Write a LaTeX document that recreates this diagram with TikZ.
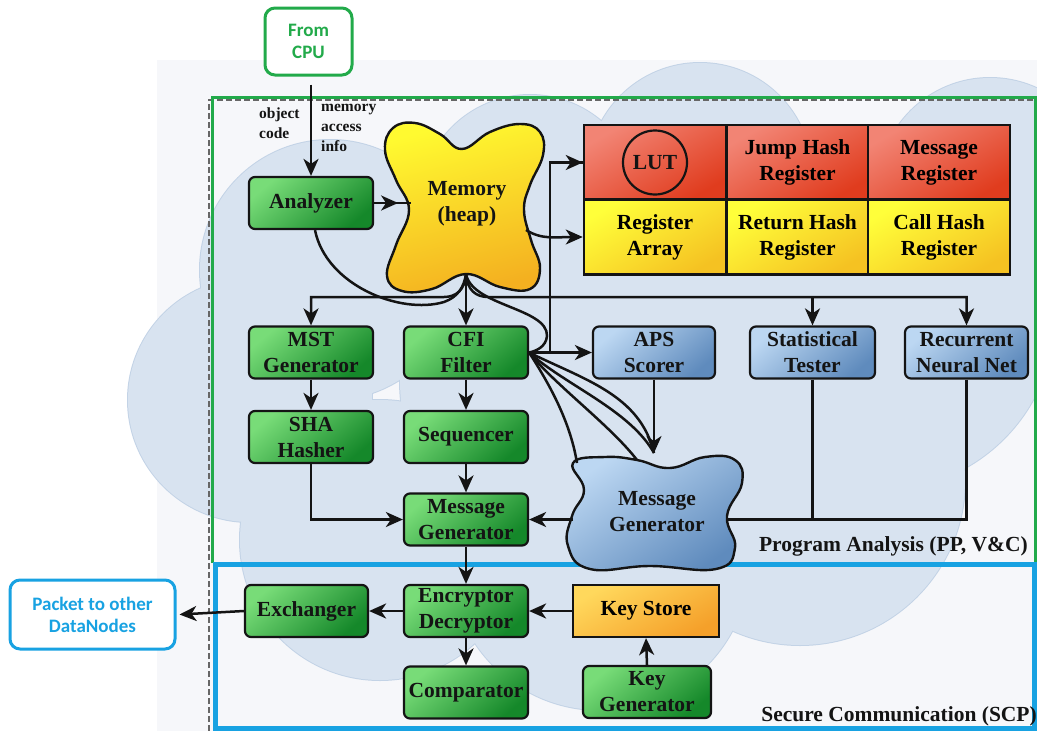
\documentclass[tikz,border=0pt]{standalone}
\usepackage{fontspec}
\setmainfont{Liberation Serif}
\newfontfamily\uisans{Carlito}
\usetikzlibrary{arrows.meta,calc}

\definecolor{gLight}{HTML}{78DC78}
\definecolor{gDark}{HTML}{15882A}
\definecolor{bLight}{HTML}{BCD7F2}
\definecolor{bDark}{HTML}{5F8BBD}
\definecolor{rLight}{HTML}{F28474}
\definecolor{rDark}{HTML}{E03C1E}
\definecolor{yLight}{HTML}{FFFF3A}
\definecolor{yDark}{HTML}{F5C222}
\definecolor{oLight}{HTML}{FFD85C}
\definecolor{oDark}{HTML}{F5A02A}
\definecolor{memTop}{HTML}{FFFA30}
\definecolor{memBot}{HTML}{F4B020}
\definecolor{frameGreen}{HTML}{22AA4A}
\definecolor{frameBlue}{HTML}{18A2E2}
\definecolor{cloudFill}{HTML}{D8E3F0}
\definecolor{cloudEdge}{HTML}{C3D3E6}
\definecolor{paper}{HTML}{F6F7FA}
\definecolor{ink}{HTML}{141414}

\tikzset{
  boxfont/.style={font=\fontsize{21.5}{26}\selectfont\bfseries},
  gbox/.style={boxfont, rounded corners=6pt, draw=ink, line width=2.2pt,
    minimum width=124pt, minimum height=52pt, align=center, inner sep=0pt,
    top color=gLight, bottom color=gDark, shading angle=40, text=ink},
  bluebox/.style={gbox, top color=bLight, bottom color=bDark, shading angle=40},
  cellred/.style={boxfont, draw=ink, line width=2.5pt, align=center, inner sep=0pt,
    minimum width=142pt, minimum height=75pt,
    top color=rLight, bottom color=rDark, shading angle=30},
  cellyel/.style={cellred, top color=yLight, bottom color=yDark, shading angle=30},
  kstore/.style={boxfont, draw=ink, line width=2.2pt, minimum width=146pt,
    minimum height=52pt, inner sep=0pt,
    top color=oLight, bottom color=oDark, shading angle=30},
  outbox/.style={rounded corners=10pt, line width=3pt, fill=white, align=center,
    font=\uisans\fontsize{19}{22}\selectfont\bfseries, inner sep=0pt},
  conn/.style={draw=ink, line width=2.5pt},
  arr/.style={conn, -{Stealth[length=17pt,width=15pt,inset=5pt]}},
  smalllab/.style={font=\fontsize{15.5}{20}\selectfont\bfseries, align=left,
    inner sep=0pt, text=ink},
  seclab/.style={font=\fontsize{21.5}{26}\selectfont\bfseries, inner sep=0pt, text=ink}
}

\begin{document}
\begin{tikzpicture}[x=1pt,y=-1pt]
\useasboundingbox (0,0) rectangle (1037,731);

% faint paper behind the cloud
\fill[paper] (157,60) rectangle (1037,731);

% cloud: outlines first, then the fills hide the inner arcs
\foreach \cx/\cy/\r in {330/270/130, 250/400/122, 380/540/140, 600/560/150,
    800/480/165, 880/315/175, 990/190/112, 700/175/112, 530/205/110, 600/380/200}
  \draw[cloudEdge, line width=2pt] (\cx,\cy) circle[radius=\r pt];
\foreach \cx/\cy/\r in {330/270/130, 250/400/122, 380/540/140, 600/560/150,
    800/480/165, 880/315/175, 990/190/112, 700/175/112, 530/205/110, 600/380/200}
  \fill[cloudFill] (\cx,\cy) circle[radius=\r pt];

% region frames
\draw[gray!80!black, line width=1.3pt, dash pattern=on 6pt off 3pt] (209,731) -- (209,100) -- (1037,100);
\draw[frameGreen, line width=3pt] (212,563) -- (212,97) -- (1035,97) -- (1035,563);
\draw[frameBlue, line width=5pt] (215,564) rectangle (1034.5,728);

% external endpoints
\node[outbox, draw=frameGreen, text=frameGreen, minimum width=87pt, minimum height=67pt]
  (cpu) at (308.5,41.5) {From\\CPU};
\node[outbox, draw=frameBlue, text=frameBlue, minimum width=165pt, minimum height=69pt]
  (pkt) at (92.5,614.5) {Packet to other\\DataNodes};

% memory blob
\path[draw=ink, line width=2.4pt, top color=memTop, bottom color=memBot, shading angle=15]
  plot[smooth cycle, tension=0.7] coordinates {
    (385,150) (393,128) (415,123) (440,134) (462,149) (490,132) (520,124) (540,132)
    (543,155) (530,185) (524,210) (531,240) (540,268) (530,289) (500,287) (466,274)
    (432,289) (402,291) (387,276) (396,245) (409,210) (396,180)};
\node[boxfont, align=center, text=ink] (mem) at (467,204) {Memory\\(heap)};
\coordinate (memB) at (466,274);
\coordinate (memL) at (411,203);
\coordinate (memR) at (526,230);

% register table
\node[cellred] (lut) at (655,162.5) {};
\draw[ink, line width=2.2pt] (lut.center) circle[radius=32pt];
\node[boxfont, text=ink] at (lut.center) {LUT};
\node[cellred] (jump) at (797.5,162.5) {Jump Hash\\Register};
\node[cellred] (msgreg) at (939,162.5) {Message\\Register};
\node[cellyel] (regarr) at (655,237) {Register\\Array};
\node[cellyel] (ret) at (797.5,237) {Return Hash\\Register};
\node[cellyel] (call) at (939,237) {Call Hash\\Register};

% program analysis boxes
\node[gbox] (analyzer) at (311,203) {Analyzer};
\node[gbox] (mst) at (311,352.5) {MST\\Generator};
\node[gbox] (sha) at (311,437) {SHA\\Hasher};
\node[gbox] (cfi) at (466,352.5) {CFI\\Filter};
\node[gbox] (seq) at (466,437) {Sequencer};
\node[gbox] (msggen) at (466,519.5) {Message\\Generator};
\node[bluebox, minimum width=122pt] (aps) at (654,352.5) {APS\\Scorer};
\node[bluebox, minimum width=125pt] (stat) at (812.5,352.5) {Statistical\\Tester};
\node[bluebox, minimum width=123pt] (rnn) at (966.5,352.5) {Recurrent\\Neural Net};

% message generator blob
\path[draw=ink, line width=2.4pt, top color=bLight, bottom color=bDark, shading angle=35]
  plot[smooth cycle, tension=0.75] coordinates {
    (573,463) (605,457) (637,460) (670,468) (705,457) (735,460) (742,483)
    (727,516) (735,548) (716,569) (650,566) (590,569) (568,546) (572,516) (584,490)};
\node[boxfont, align=center, text=ink] (blob) at (657,512) {Message\\Generator};
\coordinate (blobL) at (573,519.5);
\coordinate (blobR) at (726,519.5);
\coordinate (blobT) at (654,453);

% secure communication boxes
\node[gbox] (enc) at (466,611) {Encryptor\\Decryptor};
\node[gbox, minimum width=123pt] (exch) at (306.5,611) {Exchanger};
\node[kstore] (keystore) at (646,611) {Key Store};
\node[gbox, minimum width=128pt] (keygen) at (647,692) {Key\\Generator};
\node[gbox] (comp) at (466,692.5) {Comparator};

% labels
\node[smalllab, anchor=west] (objlab) at (259,123) {object\\code};
\node[smalllab, anchor=north west] (memlab) at (321,104) {memory\\access\\info};
\node[seclab, anchor=east] (palab) at (1028,546) {Program Analysis (PP, V\&C)};
\node[seclab, anchor=east] (scplab) at (1037,716) {Secure Communication (SCP)};

% --- connectors ---
\draw[arr] ([yshift=-8pt]analyzer.north |- cpu.south) -- (analyzer.north);
\draw[conn] (analyzer.east) -- (memL);
\draw[arr] (analyzer.east) -- ++(24,0);

% memory to the register table
\draw[arr] (memR) .. controls (542,240) and (556,237) .. (regarr.west);
\coordinate (vj) at (550,352.5);
\draw[conn] (vj) |- (lut.west);
\draw[arr] (vj |- lut.west) -- (lut.west);

% memory fan-out bus
\coordinate (busL) at (444,297);
\coordinate (busR) at (488,297);
\draw[arr] (memB) -- (cfi.north);
\draw[arr] (memB) .. controls (465,290) and (456,297) .. (busL) -| (mst.north);
\draw[arr] (memB) .. controls (467,290) and (476,297) .. (busR) -| (rnn.north);
\draw[arr] (stat.north |- busR) -- (stat.north);
\draw[conn] ([xshift=4pt]analyzer.south) .. controls (326,285) and (400,315) .. (444,302)
  .. controls (458,297) and (464,287) .. (memB);
\draw[conn] (memB) .. controls (472,306) and (548,308) .. (547,336)
  .. controls (546,347) and (536,351) .. (cfi.east);

% CFI filter outputs
\draw[arr] (cfi.east) -- (aps.west);
\draw[conn] (cfi.east) .. controls (548,382) and (570,420) .. (577,463);
\draw[conn] (cfi.east) .. controls (555,385) and (610,425) .. (637,460);
\draw[conn] (cfi.east) .. controls (565,385) and (630,410) .. (blobT);
\draw[conn] (cfi.east) .. controls (585,380) and (640,395) .. (blobT);
\draw[arr] (aps.south) -- (blobT);

% detector outputs into the generator blob
\draw[conn] (rnn.south) |- (blobR);
\draw[conn] (stat.south) -- (stat.south |- blobR);
\draw[arr] (blobL) -- (msggen.east);

% green column chains
\draw[arr] (mst.south) -- (sha.north);
\draw[arr] (sha.south) |- (msggen.west);
\draw[arr] (cfi.south) -- (seq.north);
\draw[arr] (seq.south) -- (msggen.north);

% secure communication
\draw[arr] (msggen.south) -- (enc.north);
\draw[arr] (keystore.west) -- (enc.east);
\draw[arr] (keygen.north) -- (keystore.south);
\draw[arr] (enc.west) -- (exch.east);
\draw[arr] (enc.south) -- (comp.north);
\draw[arr] (exch.west) -- ([xshift=3pt]pkt.east);
\end{tikzpicture}
\end{document}
